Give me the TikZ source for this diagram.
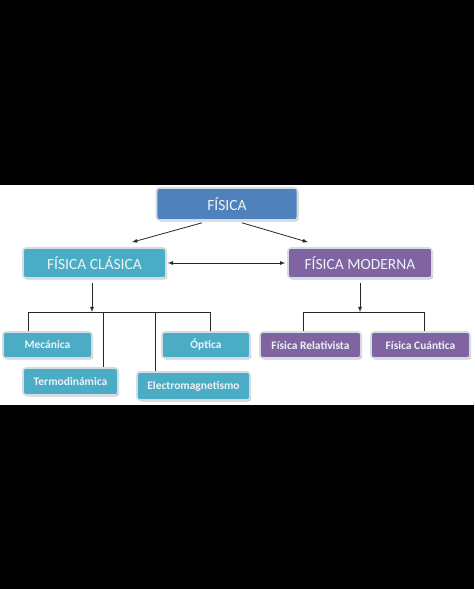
\documentclass[tikz,border=0pt]{standalone}
\usepackage{fontspec}
\setmainfont{Carlito}
\usepackage{tikz}
\usetikzlibrary{arrows}
\usetikzlibrary{shadows}
\definecolor{FisBlue}{HTML}{4F81BD}
\definecolor{FisCyan}{HTML}{4BACC6}
\definecolor{FisPurple}{HTML}{8064A2}
\definecolor{FisEdge}{HTML}{D5DCE4}
\definecolor{FisText}{HTML}{EEF2F6}
\tikzset{
  caja/.style={rounded corners=3pt, draw=FisEdge, line width=1.6pt, text=FisText, inner sep=0pt,
    drop shadow={shadow xshift=1.2pt, shadow yshift=-1.5pt, opacity=0.4}},
  grande/.style={caja, font=\fontsize{15.5}{15.5}\selectfont, minimum height=30pt},
  chica/.style={caja, font=\bfseries\fontsize{11.5}{12}\selectfont, minimum height=26pt},
  linea/.style={line width=0.8pt, black!85},
  flecha/.style={linea, -latex}
}

\begin{document}
\begin{tikzpicture}[x=1pt,y=-1pt]
    \fill[black] (0,0) rectangle (474,589);
    \fill[white] (0,185) rectangle (474,405);

    \node[grande, fill=FisBlue, minimum width=141pt, minimum height=32pt] (fisica) at (227,204) {FÍSICA};
    \node[grande, fill=FisCyan, minimum width=143pt] (clasica) at (94.5,263) {FÍSICA CLÁSICA};
    \node[grande, fill=FisPurple, minimum width=144pt] (moderna) at (360,263) {FÍSICA MODERNA};

    \node[chica, fill=FisCyan, minimum width=89pt] (mecanica) at (47.5,345) {Mecánica};
    \node[chica, fill=FisCyan, minimum width=95pt, minimum height=27pt] (termo) at (70.5,381.5) {Termodinámica};
    \node[chica, fill=FisCyan, minimum width=113pt, minimum height=28pt] (electro) at (193.5,386) {Electromagnetismo};
    \node[chica, fill=FisCyan, minimum width=88pt] (optica) at (206,345) {Óptica};
    \node[chica, fill=FisPurple, minimum width=101pt] (relativista) at (310.5,345) {Física Relativista};
    \node[chica, fill=FisPurple, minimum width=99pt] (cuantica) at (420.5,345) {Física Cuántica};

    % arrows from the top
    \draw[flecha] ([xshift=-25pt,yshift=-2pt]fisica.south) -- ([xshift=37.5pt,yshift=5pt]clasica.north);
    \draw[flecha] ([xshift=15pt,yshift=-2pt]fisica.south) -- ([xshift=-52pt,yshift=5pt]moderna.north);
    \draw[linea, latex-latex] ([xshift=1pt]clasica.east) -- ([xshift=-2pt]moderna.west);

    % clasica branch
    \coordinate (bc) at (92,312);
    \coordinate (b1) at (28,312);
    \coordinate (b2) at (103,312);
    \coordinate (b3) at (155,312);
    \coordinate (b4) at (210,312);
    \draw[flecha] ([xshift=-2.5pt,yshift=-4pt]clasica.south) -- (bc);
    \draw[linea] (b1) -- (b4);
    \draw[linea] (b1) -- (b1 |- mecanica.north);
    \draw[linea] (b2) -- (b2 |- termo.north);
    \draw[linea] (b3) -- (b3 |- electro.north);
    \draw[linea] (b4) -- (b4 |- optica.north);

    % moderna branch
    \coordinate (bm) at (360,312);
    \coordinate (b5) at (303,312);
    \coordinate (b6) at (424,312);
    \draw[flecha] ([yshift=-4pt]moderna.south) -- (bm);
    \draw[linea] (b5) -- (b6);
    \draw[linea] (b5) -- (b5 |- relativista.north);
    \draw[linea] (b6) -- (b6 |- cuantica.north);
\end{tikzpicture}
\end{document}
